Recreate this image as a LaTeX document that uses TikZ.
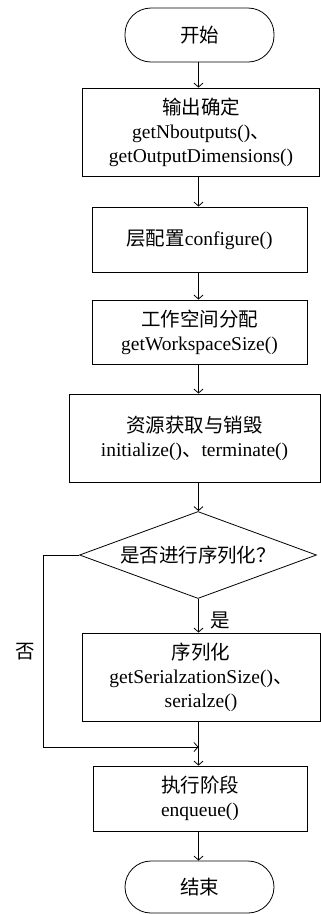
\documentclass[tikz,border=0pt]{standalone}
\usepackage{fontspec}
\setmainfont{Liberation Serif}
\newfontfamily\cjk{Noto Sans CJK SC}
\newcommand\zh[1]{{\cjk #1}}
\usetikzlibrary{shapes.geometric,arrows.meta}
\begin{document}
\begin{tikzpicture}[x=1pt,y=-1pt,
  every node/.style={font=\fontsize{19.5}{24}\selectfont, align=center, inner sep=0pt},
  box/.style={draw, line width=0.8pt, rectangle},
  term/.style={draw, line width=0.8pt, rectangle, rounded corners=26pt, minimum width=149pt},
  dec/.style={draw, line width=0.8pt, diamond, aspect=2.72, minimum width=237pt, minimum height=87pt},
  arr/.style={draw, line width=0.8pt, -{Straight Barb[length=4pt,width=9pt]}},
  ln/.style={draw, line width=0.8pt}]
\useasboundingbox (0,0) rectangle (321,914);
\node[term, minimum height=54pt] (start) at (199.5,35) {\zh{开始}};
\node[box, minimum width=237pt, minimum height=88pt] (b1) at (201,132)
  {\zh{输出确定}\\getNboutputs()\zh{、}\\getOutputDimensions()};
\node[box, minimum width=215pt, minimum height=65pt] (b2) at (199.5,239.5)
  {\zh{层配置}configure()};
\node[box, minimum width=215pt, minimum height=64pt] (b3) at (199.5,332)
  {\zh{工作空间分配}\\getWorkspaceSize()};
\node[box, minimum width=251pt, minimum height=88pt] (b4) at (194.5,438)
  {\zh{资源获取与销毁}\\initialize()\zh{、}terminate()};
\node[dec] (dia) at (198,555) {\zh{是否进行序列化？}};
\node (yes) at (220,620) {\zh{是}};
\node (no) at (25,652) {\zh{否}};
\node[box, minimum width=238pt, minimum height=88pt] (b5) at (201,677)
  {\zh{序列化}\\getSerialzationSize()\zh{、}\\serialze()};
\node[box, minimum width=214pt, minimum height=65pt] (b6) at (200,798.5)
  {\zh{执行阶段}\\enqueue()};
\node[term, minimum height=52pt] (end) at (199.5,887) {\zh{结束}};
\coordinate (nl) at (43,747);
\coordinate (m) at (198.5,747);
\draw[arr] (m |- start.south) -- (m |- b1.north);
\draw[arr] (m |- b1.south) -- (m |- b2.north);
\draw[arr] (m |- b2.south) -- (m |- b3.north);
\draw[arr] (m |- b3.south) -- (m |- b4.north);
\draw[arr] (m |- b4.south) -- (m |- dia.north);
\draw[arr] (m |- dia.south) -- (m |- b5.north);
\draw[ln] (dia.west) -| (nl);
\draw[arr] (nl) -- (m);
\draw[arr] (m |- b5.south) -- (m |- b6.north);
\draw[arr] (m |- b6.south) -- (m |- end.north);
\end{tikzpicture}
\end{document}
